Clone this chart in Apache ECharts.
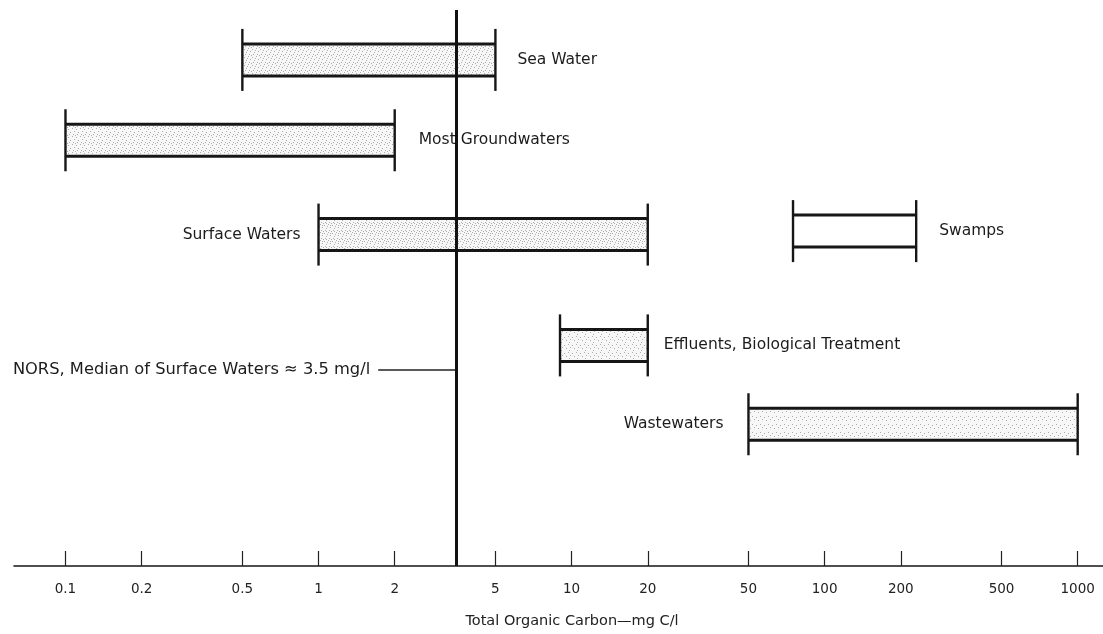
<!DOCTYPE html>
<html>
<head>
<meta charset="utf-8">
<title>Total Organic Carbon ranges</title>
<script src="https://cdn.jsdelivr.net/npm/echarts@6/dist/echarts.min.js"></script>
<style>
  html, body { margin: 0; padding: 0; background: #ffffff; }
  #chart { width: 1103px; height: 634px; }
</style>
</head>
<body>
<div id="chart"></div>
<script>
// Ranges of total organic carbon (mg C/l) found in different kinds of water
const categories = ['Sea Water', 'Most Groundwaters', 'Surface Waters', 'Swamps', 'Effluents, Biological Treatment', 'Wastewaters'];
const lowValues = [0.5, 0.1, 1, 75, 9, 50];
const highValues = [5, 2, 20, 230, 20, 1000];
const medianValue = 3.5;
const medianLabel = 'NORS, Median of Surface Waters \u2248 3.5 mg/l';
const tickValues = [0.1, 0.2, 0.5, 1, 2, 5, 10, 20, 50, 100, 200, 500, 1000];
const tickLabels = ['0.1', '0.2', '0.5', '1', '2', '5', '10', '20', '50', '100', '200', '500', '1000'];
const axisTitle = 'Total Organic Carbon\u2014mg C/l';

// Layout: lane of each bar (px below plot top), which side its label sits on, gap to label, stipple density
const rowLevel = [50, 130.5, 225, 221.5, 336, 415];
const labelSide = ['right', 'right', 'left', 'right', 'right', 'left'];
const labelGap = [22, 24, 18, 23, 16, 25];
const shade = [0.5, 0.45, 0.6, 0, 0.3, 0.25];

const FONT = '"DejaVu Sans", "Liberation Sans", Arial, sans-serif';
const INK = '#161616';
const HALF = 16;   // half height of a bar
const CAP = 15;    // how far the end caps reach beyond the bar

// small dotted tile giving the grey stipple inside the bars
function stipple(density) {
  const c = document.createElement('canvas');
  c.width = 8; c.height = 8;
  const g = c.getContext('2d');
  g.fillStyle = '#f7f7f7';
  g.fillRect(0, 0, 8, 8);
  const dots = [[0,0],[4,1],[2,3],[6,4],[1,6],[5,6],[3,7],[7,2],[2,1],[6,7],[0,4],[4,5],[7,0],[3,5],[5,3],[1,2]];
  const n = Math.round(dots.length * density);
  g.fillStyle = '#adadad';
  for (let i = 0; i < n; i++) g.fillRect(dots[i][0], dots[i][1], 1, 1);
  return c;
}

const rows = categories.map((name, i) => [lowValues[i], highValues[i], rowLevel[i]]);

const chart = echarts.init(document.getElementById('chart'), null, { renderer: 'canvas' });

chart.setOption({
  animation: false,
  backgroundColor: '#ffffff',
  grid: { left: 14, right: 0, top: 10, bottom: 67, containLabel: false },
  xAxis: {
    type: 'log',
    logBase: 10,
    position: 'bottom',
    min: 0.0626,
    max: 1259,
    axisLine: { show: true, onZero: false, lineStyle: { color: INK, width: 1.6 } },
    axisTick: {
      show: true,
      inside: true,
      length: 15,
      customValues: tickValues,
      lineStyle: { color: '#222', width: 1.2 }
    },
    axisLabel: {
      show: true,
      customValues: tickValues,
      margin: 16,
      fontSize: 13.5,
      fontFamily: FONT,
      color: '#222',
      formatter: function (v) {
        let best = 0;
        tickValues.forEach((t, k) => {
          if (Math.abs(Math.log10(t) - Math.log10(v)) < Math.abs(Math.log10(tickValues[best]) - Math.log10(v))) best = k;
        });
        return tickLabels[best];
      }
    },
    splitLine: { show: false },
    name: axisTitle,
    nameLocation: 'middle',
    nameGap: 48,
    nameTextStyle: { fontSize: 14.5, fontFamily: FONT, color: '#222', padding: [0, 0, 0, 27] }
  },
  yAxis: { type: 'value', min: 0, max: 557, inverse: true, show: false },
  series: [{
    type: 'custom',
    data: rows,
    encode: { x: [0, 1], y: 2 },
    clip: false,
    renderItem: function (params, api) {
      const i = params.dataIndex;
      const p0 = api.coord([api.value(0), api.value(2)]);
      const p1 = api.coord([api.value(1), api.value(2)]);
      const yc = p0[1], xL = p0[0], xR = p1[0];
      const fill = shade[i] > 0 ? { image: stipple(shade[i]), repeat: 'repeat' } : '#ffffff';
      const right = labelSide[i] === 'right';
      return {
        type: 'group',
        children: [
          { type: 'rect', shape: { x: xL, y: yc - HALF, width: xR - xL, height: 2 * HALF }, style: { fill: fill } },
          { type: 'line', shape: { x1: xL, y1: yc - HALF, x2: xR, y2: yc - HALF }, style: { stroke: INK, lineWidth: 3 } },
          { type: 'line', shape: { x1: xL, y1: yc + HALF, x2: xR, y2: yc + HALF }, style: { stroke: INK, lineWidth: 3 } },
          { type: 'line', shape: { x1: xL, y1: yc - HALF - CAP, x2: xL, y2: yc + HALF + CAP }, style: { stroke: INK, lineWidth: 2.4 } },
          { type: 'line', shape: { x1: xR, y1: yc - HALF - CAP, x2: xR, y2: yc + HALF + CAP }, style: { stroke: INK, lineWidth: 2.4 } },
          {
            type: 'text',
            style: {
              text: categories[i],
              x: right ? xR + labelGap[i] : xL - labelGap[i],
              y: yc,
              align: right ? 'left' : 'right',
              verticalAlign: 'middle',
              font: '15.5px ' + FONT,
              fill: '#1c1c1c'
            }
          }
        ]
      };
    },
    markLine: {
      silent: true,
      symbol: ['none', 'none'],
      label: { show: false },
      lineStyle: { color: '#111', width: 3, type: 'solid' },
      data: [{ xAxis: medianValue }]
    }
  }]
});

// annotation pointing at the median line
const xMed = chart.convertToPixel({ xAxisIndex: 0 }, medianValue);
const yNote = 370;
chart.setOption({
  graphic: [
    { type: 'line', shape: { x1: xMed - 78, y1: yNote, x2: xMed, y2: yNote }, style: { stroke: '#222', lineWidth: 1.3 } },
    {
      type: 'text',
      style: {
        text: medianLabel,
        x: xMed - 86,
        y: yNote,
        align: 'right',
        verticalAlign: 'middle',
        font: '16.3px ' + FONT,
        fill: '#1c1c1c'
      }
    }
  ]
});
</script>
</body>
</html>
